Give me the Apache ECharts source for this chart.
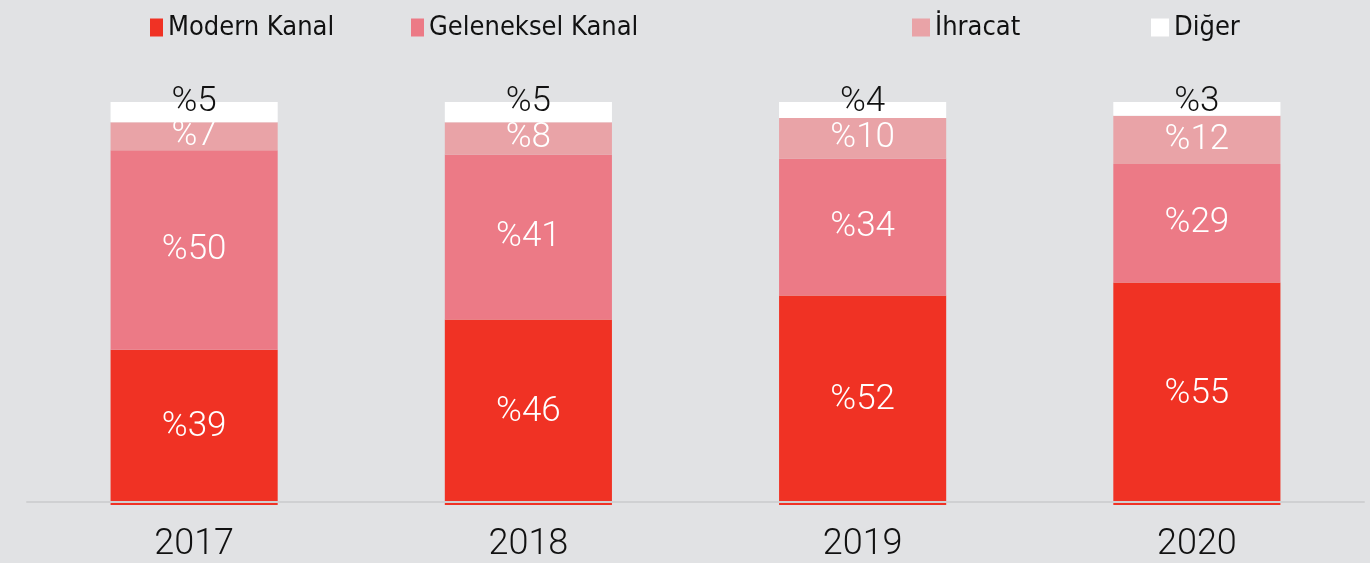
<!DOCTYPE html>
<html>
<head>
<meta charset="utf-8">
<script src="https://cdn.jsdelivr.net/npm/echarts@6/dist/echarts.min.js"></script>
<style>
html,body{margin:0;padding:0;background:#e1e2e4;}
#c{width:1370px;height:563px;}
</style>
</head>
<body>
<div id="c"></div>
<script>
const years = ['2017', '2018', '2019', '2020'];
const seriesNames = ['Modern Kanal', 'Geleneksel Kanal', 'İhracat', 'Diğer'];
const modernKanal = [38.5, 46, 52, 55.2];
const gelenekselKanal = [49.5, 41, 34, 29.4];
const ihracat = [7, 8, 10, 12];
const diger = [5, 5, 4, 3.4];

const colors = ['#f03224', '#ec7a86', '#e9a3a7', '#ffffff'];
const values = [modernKanal, gelenekselKanal, ihracat, diger];

const chart = echarts.init(document.getElementById('c'));
const fmt = p => '%' + Math.round(p.value);
const legendFont = "'Liberation Sans Narrow', 'DejaVu Sans Condensed', sans-serif";
const legendLeft = [150, 411, 912, 1151];
const legendIconW = [13, 13, 18, 18];

const series = seriesNames.map((n, i) => ({
  name: n,
  type: 'bar',
  stack: 'total',
  barWidth: '50%',
  data: values[i],
  itemStyle: { color: colors[i] },
  label: i === 3 ? {
    show: true, formatter: fmt, position: ['50%', 0], align: 'center', verticalAlign: 'middle',
    offset: [0, 0], color: '#111', fontSize: 35, fontFamily: 'Roboto', fontWeight: 300
  } : {
    show: true, formatter: fmt, position: 'inside', color: '#fff', fontSize: 35,
    fontFamily: 'Roboto', fontWeight: 300
  }
}));

chart.setOption({
  backgroundColor: '#e1e2e4',
  animation: false,
  legend: seriesNames.map((n, i) => ({
    data: [{ name: n, icon: 'rect' }],
    left: legendLeft[i],
    top: 14,
    itemWidth: legendIconW[i],
    itemHeight: 18,
    padding: 0,
    selectedMode: false,
    textStyle: { fontFamily: legendFont, fontSize: 27, color: '#111' }
  })),
  grid: { left: 27, right: 6, top: 102, bottom: 58 },
  xAxis: {
    type: 'category',
    data: years,
    offset: -3,
    z: 5,
    axisLine: { lineStyle: { color: '#cfd0d2', width: 2 } },
    axisTick: { show: false },
    axisLabel: { color: '#111', fontSize: 36, fontFamily: 'Roboto', fontWeight: 300, margin: 25 }
  },
  yAxis: { type: 'value', min: 0, max: 100, show: false },
  series: series
});
</script>
</body>
</html>
